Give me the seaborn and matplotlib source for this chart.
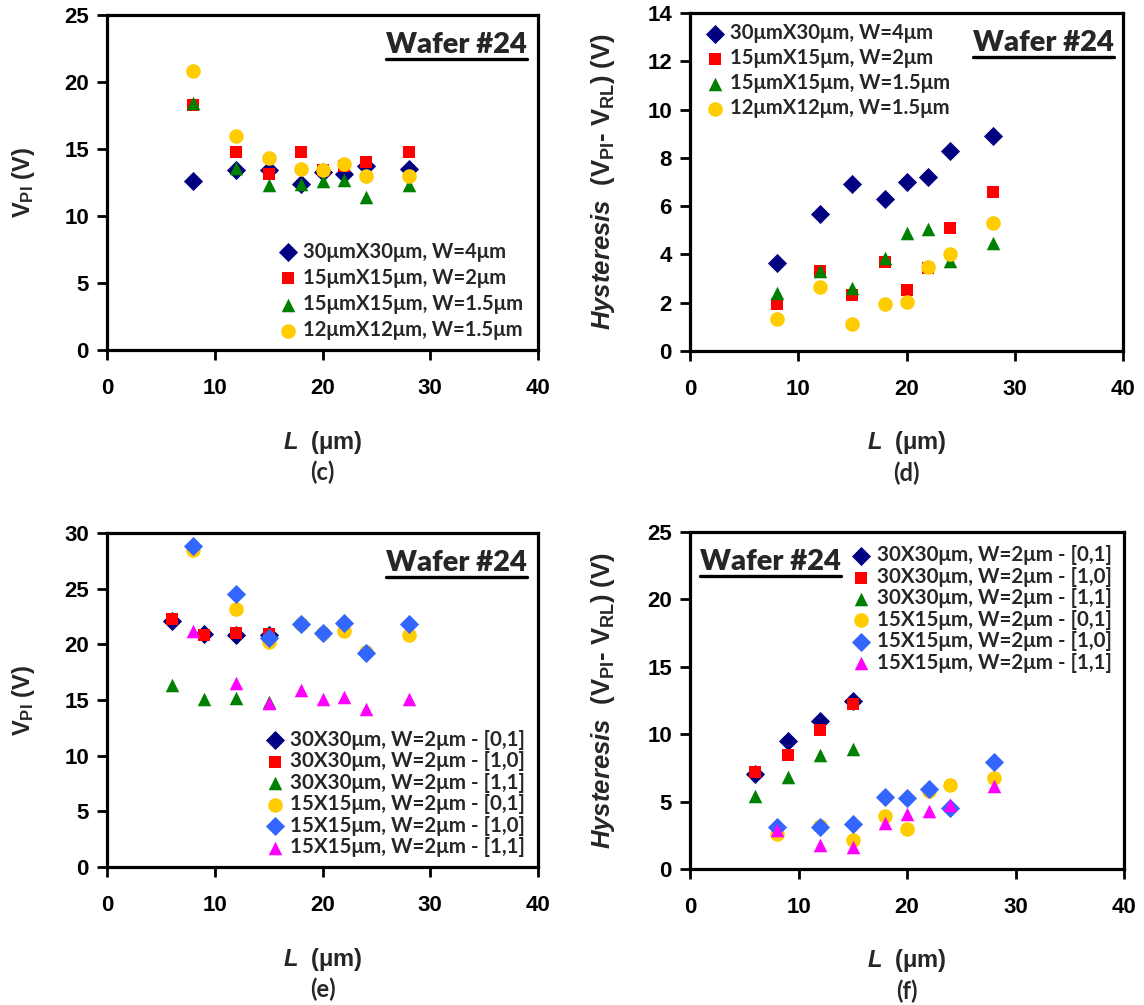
import pandas as pd
import matplotlib.pyplot as plt
import seaborn as sns
from matplotlib.font_manager import FontProperties

# ---- datos ----
L_c = [8, 12, 15, 18, 20, 22, 24, 28]
vpi_30x30_w4 = [12.6, 13.4, 13.4, 12.4, 13.3, 13.1, 13.7, 13.5]
vpi_15x15_w2 = [18.3, 14.8, 13.1, 14.75, 13.4, 13.75, 14.0, 14.75]
vpi_15x15_w15 = [18.4, 13.6, 12.3, 12.4, 12.6, 12.7, 11.4, 12.3]
vpi_12x12_w15 = [20.8, 16.0, 14.3, 13.5, 13.4, 13.9, 13.0, 13.0]

hys_30x30_w4 = [3.66, 5.69, 6.9, 6.28, 6.99, 7.2, 8.3, 8.9]
hys_15x15_w2 = [1.93, 3.31, 2.32, 3.7, 2.53, 3.45, 5.1, 6.6]
hys_15x15_w15 = [2.39, 3.31, 2.6, 3.87, 4.88, 5.07, 3.73, 4.46]
hys_12x12_w15 = [1.31, 2.64, 1.12, 1.93, 2.03, 3.49, 4.0, 5.32]

L_30 = [6, 9, 12, 15]
L_15 = [8, 12, 15, 18, 20, 22, 24, 28]
vpi_30_01 = [22.1, 20.9, 20.8, 20.8]
vpi_30_10 = [22.3, 20.8, 21.0, 20.9]
vpi_30_11 = [16.35, 15.1, 15.2, 14.85]
vpi_15_01 = [28.5, 23.2, 20.2, 21.8, 21.05, 21.2, 19.3, 20.8]
vpi_15_10 = [28.8, 24.5, 20.55, 21.8, 21.05, 21.9, 19.2, 21.8]
vpi_15_11 = [21.2, 16.5, 14.7, 15.87, 15.1, 15.3, 14.2, 15.1]

hys_30_01 = [7.06, 9.48, 10.98, 12.46]
hys_30_10 = [7.2, 8.44, 10.3, 12.24]
hys_30_11 = [5.38, 6.84, 8.44, 8.88]
hys_15_01 = [2.62, 3.2, 2.12, 3.9, 2.96, 5.82, 6.22, 6.76]
hys_15_10 = [3.1, 3.08, 3.36, 5.33, 5.23, 5.97, 4.54, 7.95]
hys_15_11 = [2.86, 1.75, 1.63, 3.4, 4.05, 4.29, 4.76, 6.17]

series_top = ['30μmX30μm, W=4μm', '15μmX15μm, W=2μm',
              '15μmX15μm, W=1.5μm', '12μmX12μm, W=1.5μm']
series_bot = ['30X30μm, W=2μm - [0,1]', '30X30μm, W=2μm - [1,0]',
              '30X30μm, W=2μm - [1,1]', '15X15μm, W=2μm - [0,1]',
              '15X15μm, W=2μm - [1,0]', '15X15μm, W=2μm - [1,1]']

colores_top = ['#000080', '#FF0000', '#008000', '#FFCC00']
marcas_top = ['D', 's', '^', 'o']
colores_bot = ['#000080', '#FF0000', '#008000', '#FFCC00', '#3366FF', '#FF00FF']
marcas_bot = ['D', 's', '^', 'o', 'D', '^']


def armar_df(nombres, xs, ys):
    filas = []
    for n, x, y in zip(nombres, xs, ys):
        for a, b in zip(x, y):
            filas.append({'L': a, 'val': b, 'serie': n})
    return pd.DataFrame(filas)


df_c = armar_df(series_top, [L_c] * 4,
                [vpi_30x30_w4, vpi_15x15_w2, vpi_15x15_w15, vpi_12x12_w15])
df_d = armar_df(series_top, [L_c] * 4,
                [hys_30x30_w4, hys_15x15_w2, hys_15x15_w15, hys_12x12_w15])
df_e = armar_df(series_bot, [L_30] * 3 + [L_15] * 3,
                [vpi_30_01, vpi_30_10, vpi_30_11, vpi_15_01, vpi_15_10, vpi_15_11])
df_f = armar_df(series_bot, [L_30] * 3 + [L_15] * 3,
                [hys_30_01, hys_30_10, hys_30_11, hys_15_01, hys_15_10, hys_15_11])

sns.set_style('ticks')
plt.rcParams['font.family'] = ['Liberation Sans', 'DejaVu Sans']
plt.rcParams['font.weight'] = 'bold'
plt.rcParams['mathtext.fontset'] = 'custom'
plt.rcParams['mathtext.rm'] = 'Liberation Sans:bold'
plt.rcParams['mathtext.it'] = 'Liberation Sans:italic:bold'
plt.rcParams['mathtext.bf'] = 'Liberation Sans:bold'

fig = plt.figure(figsize=(11.44, 10.05), dpi=100)
W, H = 1144, 1005


def crear_eje(x0, y0, x1, y1):
    return fig.add_axes([x0 / W, 1 - y1 / H, (x1 - x0) / W, (y1 - y0) / H])


ax_c = crear_eje(107, 15, 538, 350)
ax_d = crear_eje(690, 13, 1123, 351)
ax_e = crear_eje(107, 533, 538, 867)
ax_f = crear_eje(690, 532, 1124, 869)

tam = {'D': 95, 's': 72, '^': 95, 'o': 110}
fp_letra = FontProperties(family='Lato', weight='bold', size=17)
wafers = []


def dibujar_panel(ax, df, nombres, colores, marcas, ymax, ypaso, ylabel, ysize,
                  letra, leg_loc, leg_anchor, leg_space, leg_size, waf_x, waf_ha):
    for n, c, m in zip(nombres, colores, marcas):
        sub = df[df['serie'] == n]
        sns.scatterplot(data=sub, x='L', y='val', color=c, marker=m,
                        s=tam[m], linewidth=0, ax=ax, label=n, zorder=3)
    ax.set_xlim(0, 40)
    ax.set_ylim(0, ymax)
    ax.set_xticks(range(0, 41, 10))
    ax.set_yticks([ypaso * i for i in range(int(ymax / ypaso) + 1)])
    for sp in ax.spines.values():
        sp.set_linewidth(2.3)
        sp.set_color('black')
    ax.tick_params(axis='both', direction='out', length=7, width=2,
                   colors='black', labelsize=16)
    ax.tick_params(axis='x', pad=13)
    ax.tick_params(axis='y', pad=6)
    ax.set_xlabel('')
    ax.set_ylabel(ylabel, fontsize=ysize, fontweight='bold')
    alto = ax.get_position().height * H
    ax.text(0.5, -92 / alto, r'$\mathit{L}$  (μm)', transform=ax.transAxes,
            ha='center', va='center', fontsize=17, fontweight='bold')
    ax.text(0.5, -122 / alto, letra, transform=ax.transAxes, ha='center',
            va='center', fontproperties=fp_letra)
    ax.legend(loc=leg_loc, bbox_to_anchor=leg_anchor, frameon=False,
              borderpad=0, borderaxespad=0, handletextpad=0.15,
              handlelength=1.2, labelspacing=leg_space,
              prop=FontProperties(family='Lato', weight='bold', size=leg_size))
    w = ax.text(waf_x, 1 - 30 / alto, 'Wafer #24', transform=ax.transAxes,
                ha=waf_ha, va='center',
                fontproperties=FontProperties(family='Lato', weight='heavy', size=21))
    wafers.append((ax, w))


ylab_vpi = r'$\mathrm{V}_{\mathrm{PI}}$ (V)'
ylab_hys = r'$\mathit{Hysteresis}$  ($\mathrm{V}_{\mathrm{PI}}$- $\mathrm{V}_{\mathrm{RL}}$) (V)'

dibujar_panel(ax_c, df_c, series_top, colores_top, marcas_top, 25, 5,
              ylab_vpi, 17, '(c)', 'lower right', (0.965, 0.03), 0.3, 14.6,
              0.975, 'right')
dibujar_panel(ax_d, df_d, series_top, colores_top, marcas_top, 14, 2,
              ylab_hys, 18.5, '(d)', 'upper left', (0.03, 0.97), 0.25, 14.6,
              0.98, 'right')
dibujar_panel(ax_e, df_e, series_bot, colores_bot, marcas_bot, 30, 5,
              ylab_vpi, 17, '(e)', 'lower right', (0.97, 0.03), 0.07, 14.8,
              0.975, 'right')
dibujar_panel(ax_f, df_f, series_bot, colores_bot, marcas_bot, 25, 5,
              ylab_hys, 18.5, '(f)', 'upper right', (0.972, 0.96), 0.07, 14.8,
              0.023, 'left')

# posicion de las etiquetas del eje y (borde derecho del texto girado)
for ax, xpix in [(ax_c, 37), (ax_e, 37), (ax_d, 617), (ax_f, 617)]:
    pos = ax.get_position()
    ax.yaxis.set_label_coords((xpix / W - pos.x0) / pos.width, 0.5)

# subrayado de "Wafer #24"
fig.canvas.draw()
for ax, w in wafers:
    bb = w.get_window_extent().transformed(ax.transAxes.inverted())
    ax.plot([bb.x0, bb.x1], [bb.y0 - 0.004, bb.y0 - 0.004],
            transform=ax.transAxes, color='black', lw=2.4, clip_on=False)

plt.savefig('out.png', dpi=100)
